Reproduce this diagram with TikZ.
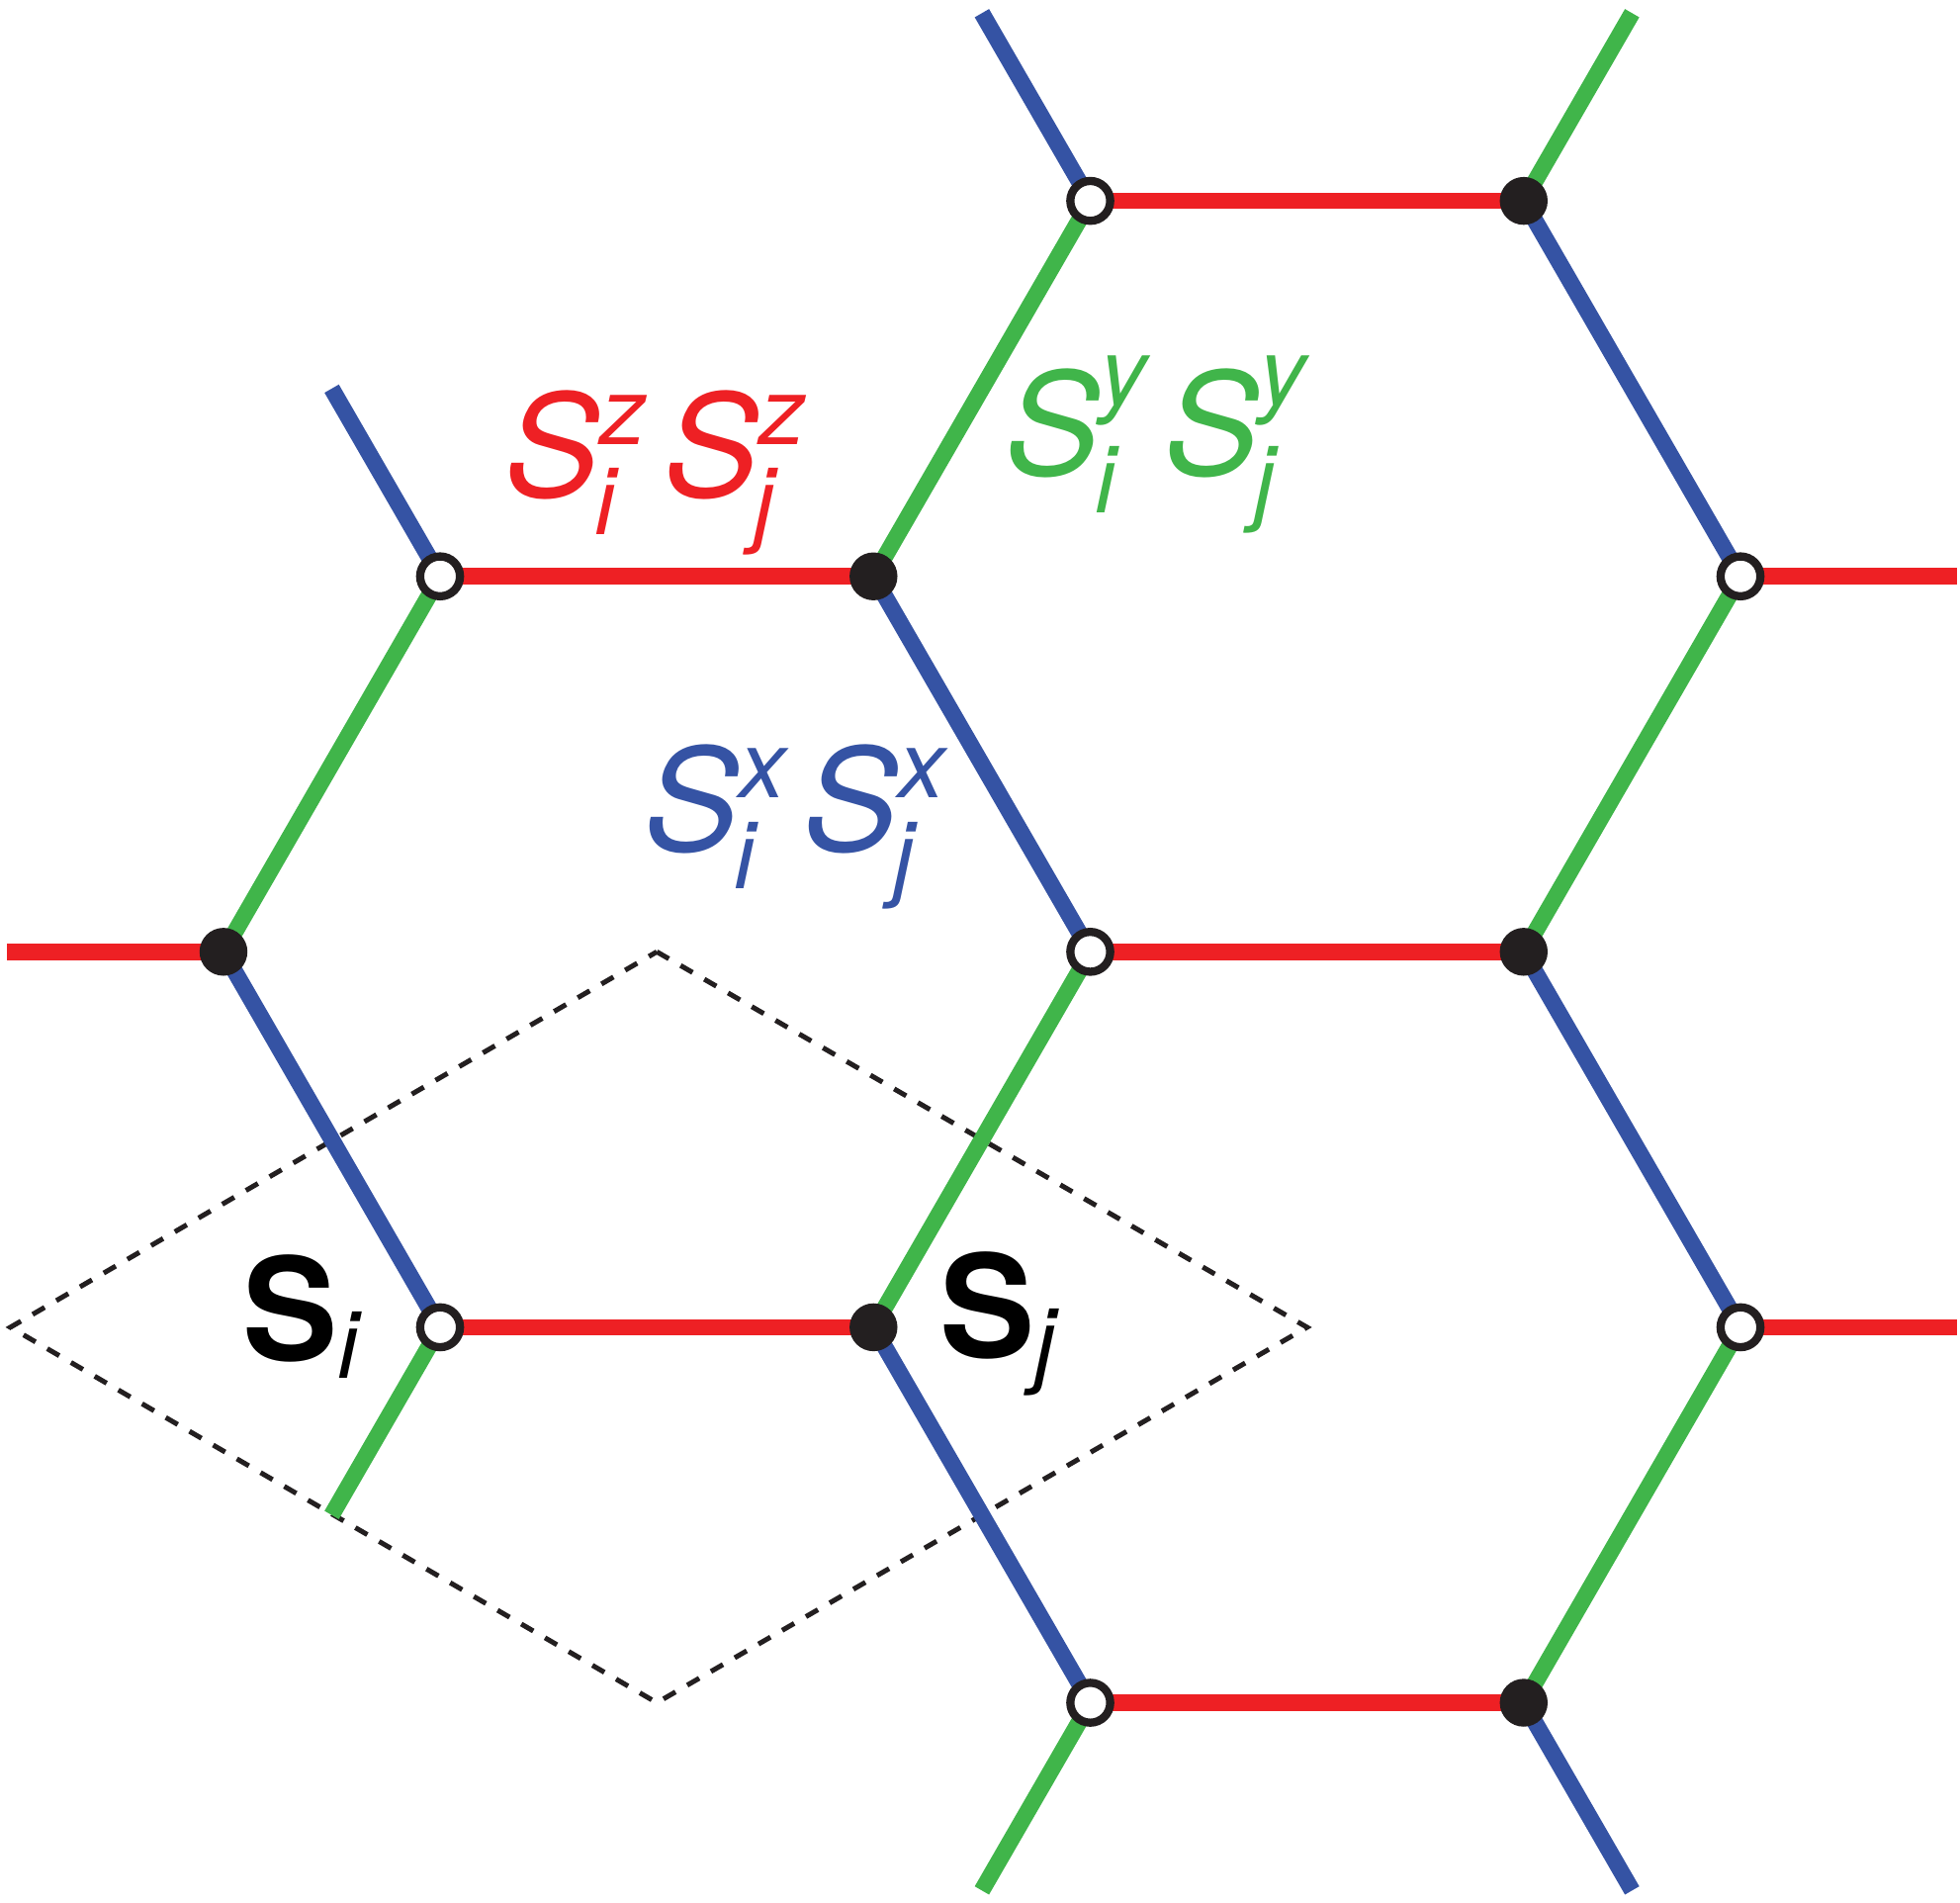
\documentclass[tikz,border=0pt]{standalone}
\usepackage{fontspec}
\setmainfont{TeX Gyre Heros}
\usetikzlibrary{backgrounds}
\definecolor{kred}{RGB}{238,32,36}
\definecolor{kgreen}{RGB}{64,181,74}
\definecolor{kblue}{RGB}{53,83,164}
\definecolor{kblack}{RGB}{35,31,32}
\newcommand{\bigsz}{\fontsize{41}{41}\selectfont}
\newcommand{\smsz}{\fontsize{27}{27}\selectfont}
\newcommand{\spinop}[3]{\textit{S}\rlap{\hspace{-0.055cm}\raisebox{-0.38cm}{\smsz\itshape #2}}\raisebox{#3}{\smsz\itshape #1}}
\tikzset{
  opennode/.style={circle,draw=kblack,fill=white,line width=2.36pt,minimum size=0.403cm,inner sep=0pt},
  fillednode/.style={circle,fill=kblack,minimum size=0.484cm,inner sep=0pt},
  bond/.style={line width=4.75pt,line cap=butt},
  zbond/.style={bond,draw=kred},
  ybond/.style={bond,draw=kgreen},
  xbond/.style={bond,draw=kblue},
  cellline/.style={draw=kblack,line width=1.42pt,dash pattern=on 0.14cm off 0.137cm},
  lab/.style={anchor=base west,inner sep=0pt,font=\bigsz}
}
\begin{document}
\begin{tikzpicture}[x=0.01cm,y=-0.01cm]
\useasboundingbox (0,0) rectangle (1982,1923);
% lattice sites
\node[opennode]   (o1) at (1102.5,203.1) {};
\node[fillednode] (f1) at (1540.8,203.1) {};
\node[opennode]   (o2) at (445.0,582.7) {};
\node[fillednode] (f2) at (883.3,582.7) {};
\node[opennode]   (o3) at (1760.0,582.7) {};
\node[fillednode] (f3) at (226.0,962.3) {};
\node[opennode]   (o4) at (1102.5,962.3) {};
\node[fillednode] (f4) at (1540.8,962.3) {};
\node[opennode]   (o5) at (445.0,1341.9) {};
\node[fillednode] (f5) at (883.3,1341.9) {};
\node[opennode]   (o6) at (1760.0,1341.9) {};
\node[opennode]   (o7) at (1102.5,1721.5) {};
\node[fillednode] (f6) at (1540.8,1721.5) {};
% free ends
\coordinate (ez1) at (7.0,962.3);
\coordinate (ez2) at (1979,582.7);
\coordinate (ez3) at (1979,1341.9);
\coordinate (ey1) at (1650.4,13.3);
\coordinate (ey2) at (335.4,1531.7);
\coordinate (ey3) at (992.9,1911.3);
\coordinate (ex1) at (992.9,13.3);
\coordinate (ex2) at (335.4,392.9);
\coordinate (ex3) at (1650.4,1911.3);
% unit cell corners
\coordinate (cL) at (10.5,1341.9);
\coordinate (cT) at (664.2,962.3);
\coordinate (cR) at (1321.7,1341.9);
\coordinate (cB) at (664.2,1721.5);
\begin{scope}[on background layer]
\draw[cellline] (cT) -- (cR) -- (cB) -- (cL) -- cycle;
\draw[zbond] (o1.center) -- (f1.center);
\draw[zbond] (o2.center) -- (f2.center);
\draw[zbond] (o4.center) -- (f4.center);
\draw[zbond] (o5.center) -- (f5.center);
\draw[zbond] (o7.center) -- (f6.center);
\draw[zbond] (f3.center) -- (ez1);
\draw[zbond] (o3.center) -- (ez2);
\draw[zbond] (o6.center) -- (ez3);
\draw[ybond] (o2.center) -- (f3.center);
\draw[ybond] (f2.center) -- (o1.center);
\draw[ybond] (o4.center) -- (f5.center);
\draw[ybond] (f4.center) -- (o3.center);
\draw[ybond] (o6.center) -- (f6.center);
\draw[ybond] (f1.center) -- (ey1);
\draw[ybond] (o5.center) -- (ey2);
\draw[ybond] (o7.center) -- (ey3);
\draw[xbond] (f3.center) -- (o5.center);
\draw[xbond] (f2.center) -- (o4.center);
\draw[xbond] (f1.center) -- (o3.center);
\draw[xbond] (f4.center) -- (o6.center);
\draw[xbond] (f5.center) -- (o7.center);
\draw[xbond] (o1.center) -- (ex1);
\draw[xbond] (o2.center) -- (ex2);
\draw[xbond] (f6.center) -- (ex3);
\end{scope}
% labels
\node[lab,text=kred]   (lz) at (510,502) {\spinop{z}{i}{0.52cm}\hspace{0.17cm}\spinop{z}{j}{0.52cm}};
\node[lab,text=kgreen] (ly) at (1016,480) {\spinop{y}{i}{0.70cm}\hspace{0.17cm}\spinop{y}{j}{0.70cm}};
\node[lab,text=kblue]  (lx) at (651,860) {\spinop{x}{i}{0.53cm}\hspace{0.17cm}\spinop{x}{j}{0.53cm}};
\node[lab,text=black]  (si) at (245,1375) {\textbf{S}\raisebox{-0.18cm}{\smsz\itshape i}};
\node[lab,text=black]  (sj) at (950,1372) {\textbf{S}\raisebox{-0.18cm}{\smsz\itshape j}};
\end{tikzpicture}
\end{document}
